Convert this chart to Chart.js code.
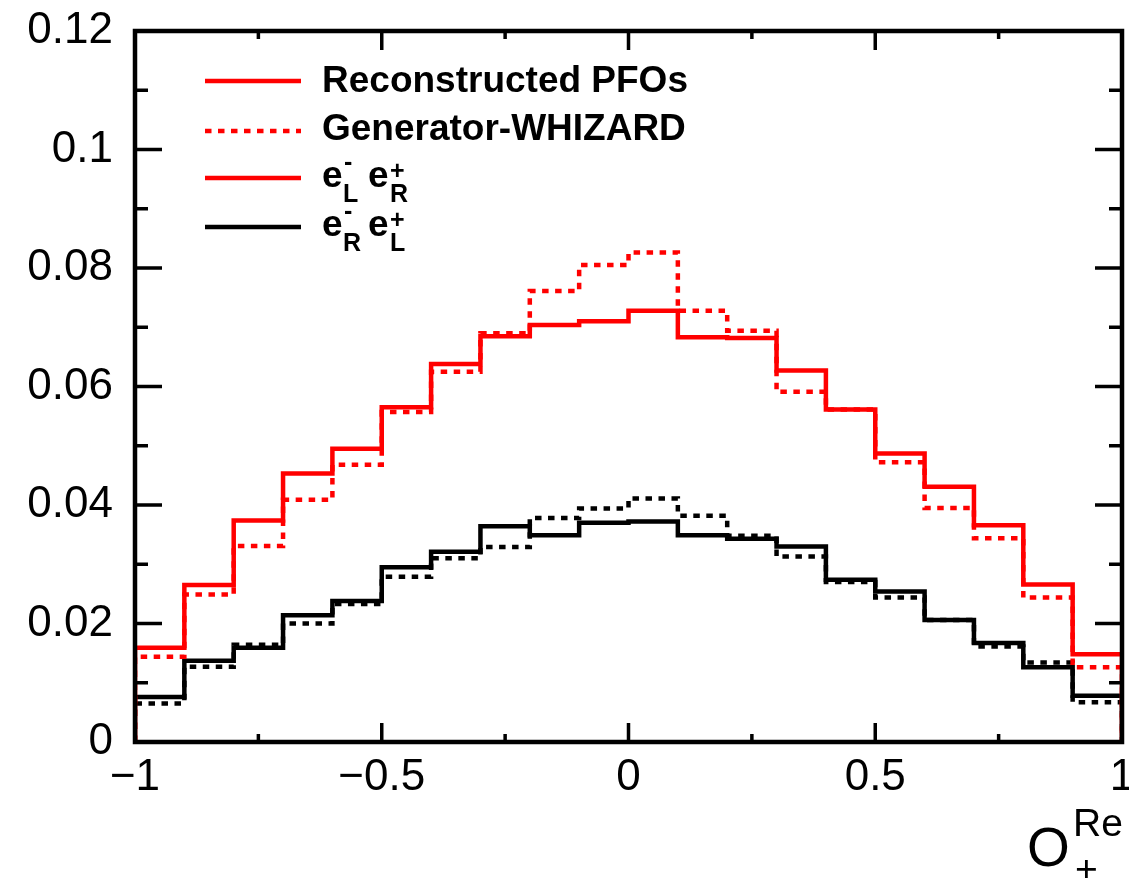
<!DOCTYPE html>
<html>
<head>
<meta charset="utf-8">
<script src="https://cdn.jsdelivr.net/npm/chart.js@4/dist/chart.umd.min.js"></script>
<style>
  html, body { margin: 0; padding: 0; background: #fff; }
  #wrap { width: 1129px; height: 878px; position: relative; }
</style>
</head>
<body>
<div id="wrap"><canvas id="c" width="1129" height="878"></canvas></div>
<script>
// ---- data ----
const binEdges = [-1, -0.9, -0.8, -0.7, -0.6, -0.5, -0.4, -0.3, -0.2, -0.1, 0, 0.1, 0.2, 0.3, 0.4, 0.5, 0.6, 0.7, 0.8, 0.9, 1];
const recoLR = [0.0159, 0.0265, 0.0374, 0.0453, 0.0495, 0.0565, 0.0638, 0.0685, 0.0704, 0.0710, 0.0728, 0.0683, 0.0682, 0.0627, 0.0561, 0.0487, 0.0431, 0.0366, 0.0266, 0.0148];
const genLR  = [0.0144, 0.0249, 0.0331, 0.0409, 0.0468, 0.0557, 0.0625, 0.0690, 0.0761, 0.0805, 0.0826, 0.0728, 0.0694, 0.0591, 0.0561, 0.0472, 0.0395, 0.0344, 0.0244, 0.0126];
const recoRL = [0.0076, 0.0137, 0.0159, 0.0214, 0.0238, 0.0295, 0.0321, 0.0364, 0.0349, 0.0370, 0.0372, 0.0349, 0.0343, 0.0330, 0.0274, 0.0254, 0.0206, 0.0167, 0.0126, 0.0078];
const genRL  = [0.0065, 0.0127, 0.0164, 0.0200, 0.0233, 0.0279, 0.0310, 0.0329, 0.0378, 0.0394, 0.0411, 0.0382, 0.0348, 0.0313, 0.0270, 0.0244, 0.0206, 0.0161, 0.0134, 0.0067];
const xTickLabels = ['\u22121', '\u22120.5', '0', '0.5', '1'];
const yTickLabels = ['0', '0.02', '0.04', '0.06', '0.08', '0.1', '0.12'];
const legendLabels = ['Reconstructed PFOs', 'Generator-WHIZARD'];

// histogram outline points (step-before), closing to zero at both edges
function histPoints(edges, vals) {
  const pts = [{x: edges[0], y: 0}];
  for (let i = 0; i < vals.length; i++) pts.push({x: edges[i], y: vals[i]});
  pts.push({x: edges[edges.length - 1], y: vals[vals.length - 1]});
  pts.push({x: edges[edges.length - 1], y: 0});
  return pts;
}

const FONT = "'Liberation Sans', Arial, Helvetica, sans-serif";
const RED = '#ff0000';
const BLACK = '#000000';
const DASH = [6.5, 6.5];
const LW = 4.5;

function ds(vals, color, dashed) {
  return {
    data: histPoints(binEdges, vals),
    borderColor: color,
    borderWidth: LW,
    borderDash: dashed ? DASH : [],
    stepped: 'before',
    pointRadius: 0,
    fill: false,
    tension: 0
  };
}

// frame + inward ticks (major + minor at midpoints)
const framePlugin = {
  id: 'frame',
  afterDatasetsDraw(chart) {
    const ctx = chart.ctx, a = chart.chartArea;
    const xs = chart.scales.x, ys = chart.scales.y;
    ctx.save();
    ctx.strokeStyle = '#000';
    ctx.lineCap = 'butt';
    ctx.lineWidth = 3.5;
    const xv = xs.ticks.map(t => t.value);
    const yv = ys.ticks.map(t => t.value);
    ctx.beginPath();
    xv.forEach((v, i) => {
      const p = xs.getPixelForValue(v);
      ctx.moveTo(p, a.bottom); ctx.lineTo(p, a.bottom - 19);
      ctx.moveTo(p, a.top); ctx.lineTo(p, a.top + 19);
      if (i < xv.length - 1) {
        const m = xs.getPixelForValue((v + xv[i + 1]) / 2);
        ctx.moveTo(m, a.bottom); ctx.lineTo(m, a.bottom - 8);
        ctx.moveTo(m, a.top); ctx.lineTo(m, a.top + 8);
      }
    });
    yv.forEach((v, i) => {
      const p = ys.getPixelForValue(v);
      ctx.moveTo(a.left, p); ctx.lineTo(a.left + 27, p);
      ctx.moveTo(a.right, p); ctx.lineTo(a.right - 27, p);
      if (i < yv.length - 1) {
        const m = ys.getPixelForValue((v + yv[i + 1]) / 2);
        ctx.moveTo(a.left, m); ctx.lineTo(a.left + 13, m);
        ctx.moveTo(a.right, m); ctx.lineTo(a.right - 13, m);
      }
    });
    ctx.stroke();
    ctx.lineWidth = 4.5;
    ctx.strokeRect(a.left, a.top, a.right - a.left, a.bottom - a.top);
    ctx.restore();
  }
};

// legend with sub/superscripts, and axis title
const legendPlugin = {
  id: 'richLegend',
  afterDraw(chart) {
    const ctx = chart.ctx, a = chart.chartArea;
    const lx0 = a.left + 70, lx1 = a.left + 166, tx = a.left + 187;
    ctx.save();
    function line(y, color, dashed) {
      ctx.beginPath();
      ctx.strokeStyle = color;
      ctx.lineWidth = LW;
      ctx.setLineDash(dashed ? DASH : []);
      ctx.moveTo(lx0, y); ctx.lineTo(lx1, y);
      ctx.stroke();
      ctx.setLineDash([]);
    }
    ctx.fillStyle = '#000';
    ctx.textBaseline = 'alphabetic';
    ctx.textAlign = 'left';
    const big = 'bold 37px ' + FONT, small = 'bold 25px ' + FONT;

    // 1
    line(a.top + 50, RED, false);
    ctx.font = big; ctx.fillText(legendLabels[0], tx, a.top + 61);
    // 2
    line(a.top + 100, RED, true);
    ctx.font = big; ctx.fillText(legendLabels[1], tx, a.top + 109);

    function pair(base, sub1, sub2) {
      ctx.font = big;
      ctx.fillText('e', tx, base);
      ctx.font = small;
      ctx.fillText('-', tx + 22, base - 17);
      ctx.fillText(sub1, tx + 21, base + 15);
      ctx.font = big;
      ctx.fillText('e', tx + 46, base);
      ctx.font = small;
      ctx.fillText('+', tx + 68, base - 8);
      ctx.fillText(sub2, tx + 68, base + 15);
    }
    // 3
    line(a.top + 147, RED, false);
    pair(a.top + 156, 'L', 'R');
    // 4
    line(a.top + 196, BLACK, false);
    pair(a.top + 205, 'R', 'L');

    // x axis title O_+^Re
    ctx.fillStyle = '#000';
    ctx.font = '55px ' + FONT;
    ctx.fillText('O', 1027, 866);
    ctx.font = '39px ' + FONT;
    ctx.fillText('Re', 1073, 836);
    ctx.fillText('+', 1075, 882);
    ctx.restore();
  }
};

const chart = new Chart(document.getElementById('c'), {
  type: 'line',
  data: {
    datasets: [
      ds(recoLR, RED, false),
      ds(genLR, RED, true),
      ds(recoRL, BLACK, false),
      ds(genRL, BLACK, true)
    ]
  },
  options: {
    responsive: false,
    animation: false,
    devicePixelRatio: 1,
    layout: { padding: { top: 31, right: 7, left: 0, bottom: 0 } },
    plugins: { legend: { display: false }, tooltip: { enabled: false } },
    scales: {
      x: {
        type: 'linear', min: -1, max: 1,
        grid: { display: false, drawTicks: false },
        border: { display: false },
        ticks: {
          stepSize: 0.5, padding: 14, maxRotation: 0, autoSkip: false,
          color: '#000', font: { family: FONT, size: 44, lineHeight: 1 },
          callback: (v, i) => xTickLabels[i]
        },
        afterFit: s => { s.height = 136; s.paddingLeft = 0; s.paddingRight = 0; }
      },
      y: {
        type: 'linear', min: 0, max: 0.12,
        grid: { display: false, drawTicks: false },
        border: { display: false },
        ticks: {
          stepSize: 0.02, padding: 22, autoSkip: false,
          color: '#000', font: { family: FONT, size: 44, lineHeight: 1 },
          callback: (v, i) => yTickLabels[i]
        },
        afterFit: s => { s.width = 135; s.paddingTop = 0; s.paddingBottom = 0; }
      }
    }
  },
  plugins: [framePlugin, legendPlugin]
});
</script>
</body>
</html>
